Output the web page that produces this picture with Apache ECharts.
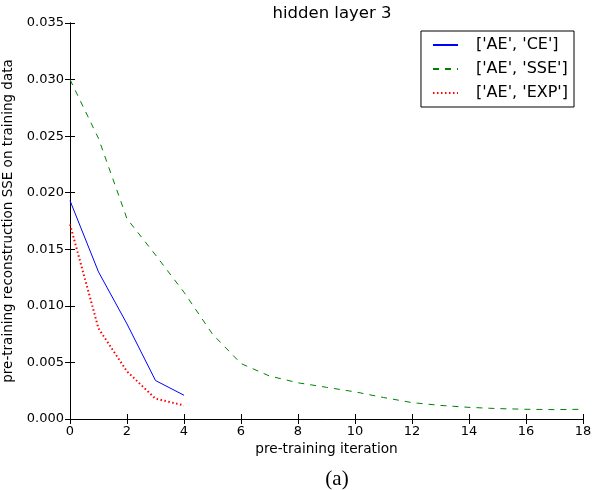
<!DOCTYPE html>
<html>
<head>
<meta charset="utf-8">
<script src="https://cdn.jsdelivr.net/npm/echarts@6/dist/echarts.min.js"></script>
<style>
  html, body { margin: 0; padding: 0; background: #fff; }
  #chart { width: 593px; height: 490px; }
</style>
</head>
<body>
<div id="chart"></div>
<script>
// 数据
const iterCE = [0, 1, 2, 3, 4];
const sseCE = [0.0193, 0.0130, 0.0084, 0.0034, 0.0021];

const iterSSE = [0, 1, 2, 3, 4, 5, 6, 7, 8, 9, 10, 11, 12, 13, 14, 15, 16, 17, 18];
const sseSSE = [0.0300, 0.0248, 0.0177, 0.0145, 0.0112, 0.0075, 0.0049, 0.0038, 0.0032, 0.0028,
  0.0024, 0.0019, 0.00145, 0.0012, 0.00103, 0.00092, 0.00086, 0.00083, 0.00086];

const iterEXP = [0, 1, 2, 3, 4];
const sseEXP = [0.0172, 0.0080, 0.0042, 0.0018, 0.0012];

const seriesNames = ["['AE', 'CE']", "['AE', 'SSE']", "['AE', 'EXP']"];

const font = 'DejaVu Sans';
const chart = echarts.init(document.getElementById('chart'));

const pairs = (xs, ys) => xs.map((x, i) => [x, ys[i]]);

// 四周的坐标框和刻度（模仿 matplotlib）
const frameAxis = {
  axisLine: { show: true, lineStyle: { color: '#000', width: 1 } },
  axisTick: { show: true, inside: true, length: 5, lineStyle: { color: '#000' } },
  splitLine: { show: false }
};

const option = {
  animation: false,
  title: {
    text: 'hidden layer 3',
    left: 327,
    top: 0,
    textAlign: 'center',
    textStyle: { fontFamily: font, fontSize: 16.5, fontWeight: 'normal', color: '#000' }
  },
  grid: { left: 70, right: 10, top: 23, bottom: 71, outerBoundsMode: 'none', containLabel: false },
  legend: {
    right: 19,
    top: 31,
    orient: 'vertical',
    data: seriesNames,
    backgroundColor: '#fff',
    borderColor: '#000',
    borderWidth: 1,
    borderRadius: 0,
    padding: [6, 6, 6, 11],
    itemGap: 8,
    itemWidth: 25,
    itemHeight: 17,
    itemStyle: { opacity: 0 },
    textStyle: { fontFamily: font, fontSize: 16, color: '#000', padding: [0, 0, 0, 13] }
  },
  xAxis: [
    Object.assign({}, frameAxis, {
      type: 'value', min: 0, max: 18, interval: 2,
      name: 'pre-training iteration',
      nameLocation: 'middle', nameGap: 21,
      nameTextStyle: { fontFamily: font, fontSize: 13.7, color: '#000' },
      axisLabel: { fontFamily: font, fontSize: 13, color: '#000', margin: 6 }
    }),
    Object.assign({}, frameAxis, {
      type: 'value', min: 0, max: 18, interval: 2, position: 'top',
      axisLabel: { show: false }
    })
  ],
  yAxis: [
    Object.assign({}, frameAxis, {
      type: 'value', min: 0, max: 0.035, interval: 0.005,
      name: 'pre-training reconstruction SSE on training data',
      nameLocation: 'middle', nameGap: 50,
      nameTextStyle: { fontFamily: font, fontSize: 13.5, color: '#000' },
      axisLabel: {
        fontFamily: font, fontSize: 13, color: '#000', margin: 6,
        formatter: v => v.toFixed(3)
      }
    }),
    Object.assign({}, frameAxis, {
      type: 'value', min: 0, max: 0.035, interval: 0.005, position: 'right',
      axisLabel: { show: false }
    })
  ],
  series: [
    {
      name: seriesNames[0], type: 'line', showSymbol: false, symbol: 'none',
      data: pairs(iterCE, sseCE),
      lineStyle: { color: '#0000ff', width: 1, type: 'solid' },
      itemStyle: { color: '#0000ff' }
    },
    {
      name: seriesNames[1], type: 'line', showSymbol: false, symbol: 'none',
      data: pairs(iterSSE, sseSSE),
      lineStyle: { color: '#008000', width: 1, type: [6, 6] },
      itemStyle: { color: '#008000' }
    },
    {
      name: seriesNames[2], type: 'line', showSymbol: false, symbol: 'none',
      data: pairs(iterEXP, sseEXP),
      lineStyle: { color: '#ff0000', width: 2, type: [1.5, 2.5] },
      itemStyle: { color: '#ff0000' }
    }
  ],
  graphic: [
    {
      type: 'text', x: 337, y: 469,
      style: { text: '(a)', font: '21px "Liberation Serif", "DejaVu Serif", serif', fill: '#000', align: 'center' }
    }
  ]
};

chart.setOption(option);
</script>
</body>
</html>
